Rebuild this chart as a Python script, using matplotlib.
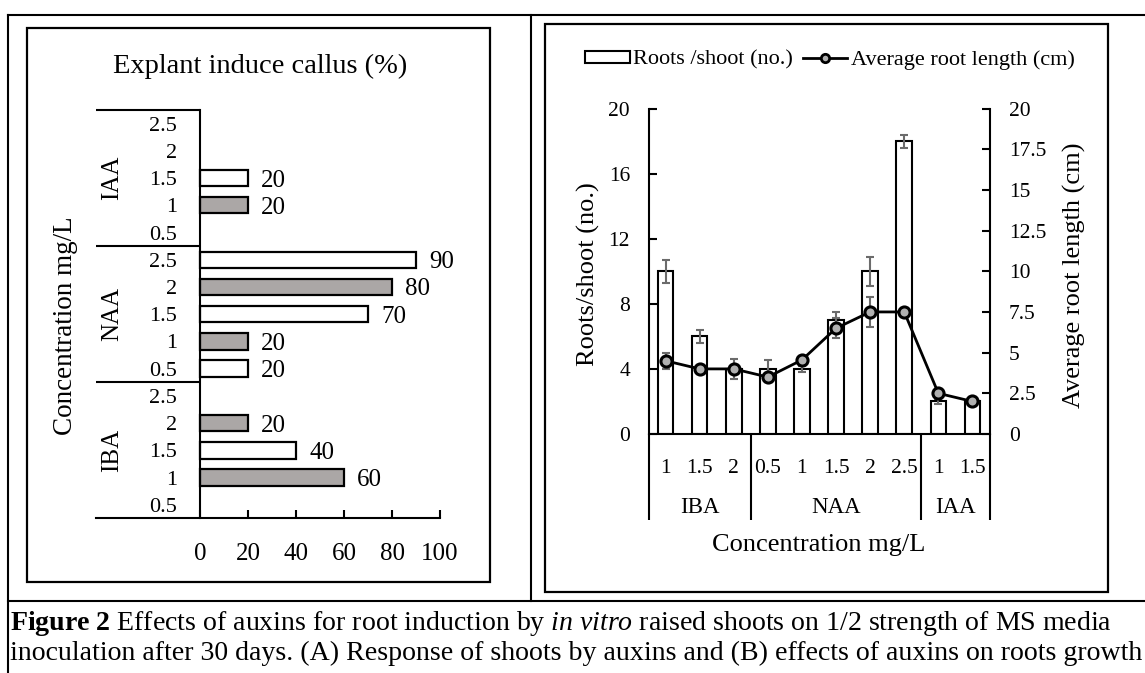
import matplotlib
matplotlib.use("Agg")
import matplotlib.pyplot as plt
import matplotlib.font_manager as fm
import matplotlib.transforms as mtrans
from matplotlib.lines import Line2D
from matplotlib.patches import Patch, Rectangle
import numpy as np

# ---------------- data : (A) explant induce callus (%) ----------------
auxins = ["IBA", "NAA", "IAA"]
conc_levels = ["0.5", "1", "1.5", "2", "2.5"]
callus_iba = [0, 60, 40, 20, 0]
callus_naa = [20, 20, 70, 80, 90]
callus_iaa = [0, 20, 20, 0, 0]

# ---------------- data : (B) roots per shoot / root length ----------------
b_groups = ["IBA", "NAA", "IAA"]
b_conc = [["1", "1.5", "2"], ["0.5", "1", "1.5", "2", "2.5"], ["1", "1.5"]]
roots_per_shoot = [10, 6, 4, 4, 4, 7, 10, 18, 2, 2]
roots_err = [0.7, 0.4, 0.6, 0.55, 0.2, 0.5, 0.9, 0.4, 0.15, 0.05]
root_length = [4.5, 4.0, 4.0, 3.5, 4.55, 6.5, 7.5, 7.5, 2.5, 2.0]
length_err = [0.5, 0.1, 0.1, 0.1, 0.2, 0.6, 0.9, 0.1, 0.1, 0.1]

caption1 = (r"$\mathbf{Figure\ 2}$ Effects of auxins for root induction by "
            r"$\mathit{in\ vitro}$ raised shoots on 1/2 strength of MS media")
caption2 = ("inoculation after 30 days. (A) Response of shoots by auxins "
            "and (B) effects of auxins on roots growth")

# fonts
names = {f.name for f in fm.fontManager.ttflist}
cap_font = next((n for n in ["DejaVu Serif Condensed", "Liberation Sans Narrow",
                             "Liberation Serif"] if n in names), "DejaVu Serif")
plt.rcParams["font.family"] = "Liberation Serif"
plt.rcParams["mathtext.fontset"] = "custom"
plt.rcParams["mathtext.rm"] = cap_font
plt.rcParams["mathtext.it"] = cap_font + ":italic"
plt.rcParams["mathtext.bf"] = cap_font + ":bold"

W, H = 1145, 673
fig = plt.figure(figsize=(W / 100, H / 100), dpi=100)


def fx(px):
    return px / W


def fy(py):
    return 1 - py / H


def fline(xs, ys, lw=1.5):
    fig.add_artist(Line2D([fx(v) for v in xs], [fy(v) for v in ys],
                          transform=fig.transFigure, color="black", lw=lw))


def fbox(x0, y0, x1, y1):
    fig.add_artist(Rectangle((fx(x0), fy(y1)), fx(x1) - fx(x0), fy(y0) - fy(y1),
                             transform=fig.transFigure, fill=False,
                             edgecolor="black", lw=1.6))


# table frame
fline([7.6, W], [15, 15])
fline([7.6, 7.6], [15, H])
fline([531, 531], [15, 601])
fline([7.6, W], [601, 601])
fbox(27, 27.6, 490, 582)
fbox(545, 23.7, 1108, 592)

# ---------------- panel A ----------------
vals = callus_iba + callus_naa + callus_iaa
labels_a = conc_levels * len(auxins)
ypos = np.arange(len(vals))
xmin = -43.17

axA = fig.add_axes([fx(96.4), fy(518.4), fx(440) - fx(96.4), (518.4 - 110) / H])
for y, v, c in zip(ypos, vals, labels_a):
    if v == 0:
        continue
    col = "#aba7a6" if c in ("1", "2") else "white"
    axA.barh(y, v, height=0.6, color=col, edgecolor="black", lw=1.6, zorder=2)
    axA.annotate(str(v), (v, y), xytext=(9.5, 0), textcoords="offset points",
                 ha="left", va="center_baseline", fontsize=18)

axA.set_xlim(xmin, 100)
axA.set_ylim(-0.5, len(vals) - 0.5)
axA.spines["top"].set_visible(False)
axA.spines["right"].set_visible(False)
axA.spines["left"].set_position(("data", 0))
for s in ("left", "bottom"):
    axA.spines[s].set_linewidth(1.5)
axA.set_xticks([0, 20, 40, 60, 80, 100])
axA.tick_params(axis="x", direction="in", length=5.8, width=1.5, labelsize=18, pad=18)
axA.set_yticks(ypos, labels=labels_a)
axA.tick_params(axis="y", length=0, labelsize=16, pad=16.6)

n = len(conc_levels)
bounds = [n * (k + 1) - 0.5 for k in range(len(auxins))]
axA.hlines(bounds, xmin, 0, color="black", lw=1.5, clip_on=False)
for k, g in enumerate(auxins):
    axA.text(-36.7, n * k + (n - 1) / 2, g, rotation=90, ha="center", va="center",
             fontsize=18)

fig.text(fx(260), fy(66), "Explant induce callus (%)", ha="center", va="center",
         fontsize=20.5)
fig.text(fx(65), fy(326), "Concentration mg/L", rotation=90, ha="center",
         va="center", fontsize=19.5)

# ---------------- panel B ----------------
x = np.arange(len(roots_per_shoot))
axB = fig.add_axes([fx(648.5), fy(434), 341 / W, (434 - 108.5) / H])
axB.bar(x, roots_per_shoot, width=0.46, color="white", edgecolor="black", lw=1.5,
        zorder=2)
axB.errorbar(x, roots_per_shoot, yerr=roots_err, fmt="none", ecolor="#6b6b6b",
             elinewidth=1.5, capsize=3, capthick=1.5, zorder=3)
axB.set_xlim(-0.5, len(x) - 0.5)
axB.set_ylim(0, 20)
axB.set_yticks([0, 4, 8, 12, 16, 20])
axB.set_xticks([])
axB.tick_params(axis="y", direction="in", length=5.5, width=1.5, labelsize=15.5,
                pad=13.3)

axB2 = axB.twinx()
axB2.errorbar(x, root_length, yerr=length_err, fmt="none", ecolor="#6b6b6b",
              elinewidth=1.5, capsize=3, capthick=1.5, zorder=3)
axB2.plot(x, root_length, color="black", lw=2, marker="o", ms=8, mfc="#b0b0b0",
          mec="black", mew=2.2, zorder=4)
axB2.set_ylim(0, 20)
rt = np.arange(0, 20.1, 2.5)
axB2.set_yticks(rt, labels=["%g" % v for v in rt])
axB2.tick_params(axis="y", direction="in", length=5.5, width=1.5, labelsize=15.5,
                 pad=14)

for a in (axB, axB2):
    a.spines["top"].set_visible(False)
    for s in a.spines.values():
        s.set_linewidth(1.5)
axB.spines["right"].set_visible(False)
axB2.spines["left"].set_visible(False)
axB2.spines["bottom"].set_visible(False)

# multi-level category axis
tr = mtrans.blended_transform_factory(axB.transData, axB.transAxes)
edges = [-0.5]
for g in b_conc:
    edges.append(edges[-1] + len(g))
axB.vlines(edges, -0.264, 0, transform=tr, color="black", lw=1.5, clip_on=False)
i = 0
for g, concs in zip(b_groups, b_conc):
    start = i
    for c in concs:
        axB.text(i, -0.1075, c, transform=tr, ha="center", va="center", fontsize=15.5)
        i += 1
    axB.text((start + i - 1) / 2, -0.227, g, transform=tr, ha="center",
             va="center", fontsize=16.5)

fig.text(fx(818.5), fy(545), "Concentration mg/L", ha="center", va="center",
         fontsize=19)
fig.text(fx(588), fy(274), "Roots/shoot (no.)", rotation=90, ha="center",
         va="center", fontsize=19)
fig.text(fx(1074), fy(275), "Average root length (cm)", rotation=90, ha="center",
         va="center", fontsize=19)

handles = [Patch(facecolor="white", edgecolor="black", lw=1.5),
           Line2D([], [], color="black", lw=2, marker="o", ms=6, mfc="#b0b0b0",
                  mec="black", mew=2)]
fig.legend(handles, ["Roots /shoot (no.)", "Average root length (cm)"],
           loc="center", bbox_to_anchor=(fx(830), fy(60)), ncol=2, frameon=False,
           fontsize=16, handlelength=2.0, handleheight=0.4, handletextpad=0.15,
           columnspacing=0.45, borderpad=0, borderaxespad=0)

# ---------------- caption ----------------
cap2 = fig.text(fx(10), fy(653), caption2, fontsize=10, family=cap_font, va="center")
r = fig.canvas.get_renderer()
w = cap2.get_window_extent(r).width
size = 10 * (1143 - 10) / w
cap2.set_fontsize(size)
fig.text(fx(10), fy(624), caption1, fontsize=size, family=cap_font, va="center")

fig.savefig("out.png", dpi=100)
